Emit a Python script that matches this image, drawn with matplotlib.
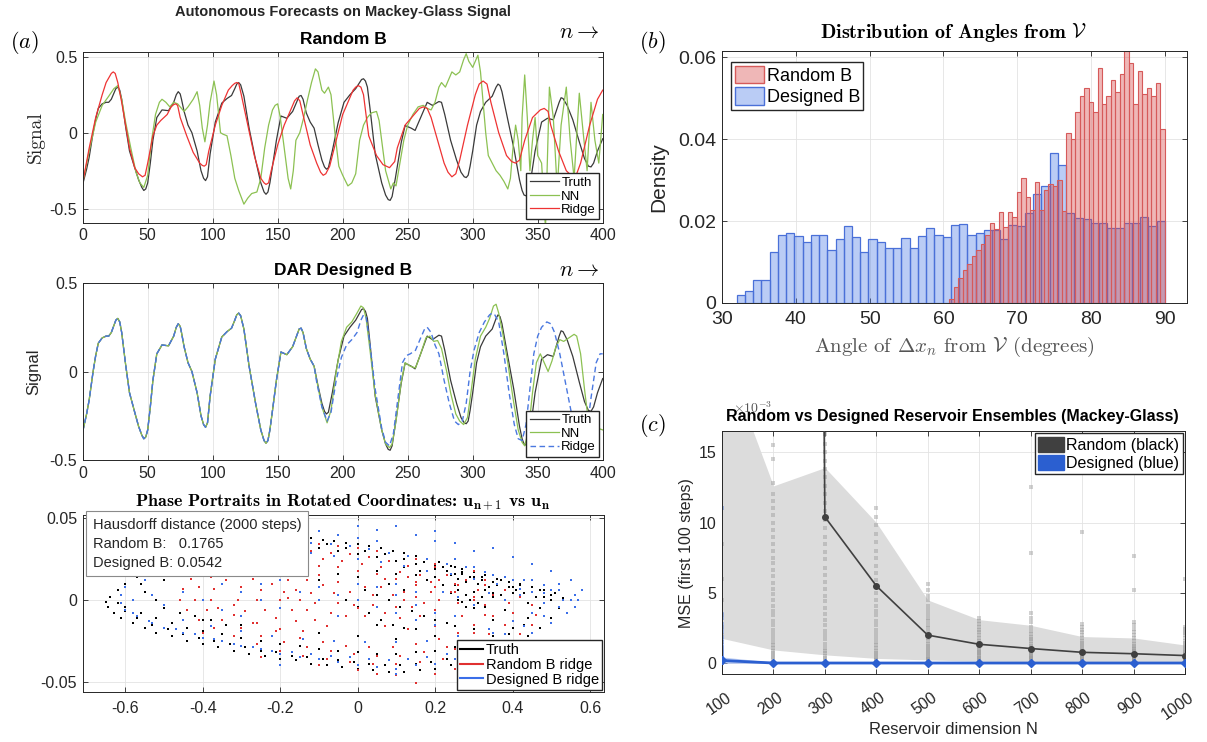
import os

import matplotlib
matplotlib.use("Agg")
import matplotlib.pyplot as plt
import matplotlib.transforms as mtransforms
from matplotlib.font_manager import FontProperties
from matplotlib.patches import Patch
from matplotlib.lines import Line2D

# ---------------- data ----------------
# (a) time series: truth and the two forecast pairs
truth_n = [0, 3, 5, 8, 10, 12, 15, 18, 20, 22, 24, 25.5, 27, 28.5, 30, 33, 36, 40, 43, 45.5, 47, 48.5, 50,
           52, 54, 57, 61, 66, 70, 72, 73.5, 75, 76, 78, 81, 84, 88, 91, 93, 94.5, 96, 98, 102, 107, 111, 114.5,
           117, 118.5, 120, 121.5, 124, 128, 133, 137, 139.5, 141, 142.5, 144, 146, 149, 152.5, 157, 161.5, 165, 166.5, 168, 169.5, 172, 175, 178,
           181, 184, 186, 187.5, 189, 192, 196.5, 201, 205.6, 210, 213, 214.5, 216, 217.5, 219, 221, 225, 230, 233, 235, 236.5, 238, 240.5,
           245, 248, 252.7, 255.7, 260, 265, 269, 274, 276, 278.5, 283, 287.6, 291, 293.5, 295, 296.5, 298, 300, 303, 306, 310, 315,
           318, 319.5, 321, 322.5, 327, 331.6, 336, 338, 339.5, 341, 342.5, 345, 348, 353, 357.5, 362, 366.5, 368, 369.5, 372.6, 377, 382, 386, 389,
           391, 393, 396, 400]
truth_v = [-0.34, -0.24, -0.16, 0.0, 0.09, 0.16, 0.19, 0.2, 0.2, 0.22, 0.26, 0.29, 0.3, 0.28, 0.22, 0.04, -0.12, -0.23, -0.31, -0.36, -0.38, -0.37, -0.33,
           -0.2, -0.05, 0.1, 0.15, 0.145, 0.2, 0.25, 0.27, 0.255, 0.22, 0.14, 0.05, 0.0, -0.12, -0.25, -0.3, -0.315, -0.29, -0.14, 0.07, 0.195, 0.225, 0.245,
           0.29, 0.32, 0.33, 0.315, 0.24, 0.03, -0.18, -0.33, -0.39, -0.405, -0.39, -0.33, -0.22, -0.05, 0.11, 0.095, 0.14, 0.21, 0.24, 0.245, 0.22, 0.13, 0.07, 0.03,
           -0.08, -0.18, -0.225, -0.24, -0.23, -0.12, 0.066, 0.2, 0.25, 0.29, 0.33, 0.35, 0.355, 0.34, 0.3, 0.16, -0.14, -0.33, -0.41, -0.44, -0.445, -0.42, -0.3,
           -0.066, 0.047, 0.03, 0.015, 0.1, 0.2, 0.18, 0.205, 0.2, 0.12, -0.05, -0.18, -0.26, -0.29, -0.295, -0.28, -0.22, -0.12, 0.05, 0.14, 0.2, 0.24,
           0.3, 0.32, 0.31, 0.27, 0.085, -0.10, -0.31, -0.38, -0.41, -0.415, -0.4, -0.29, -0.12, 0.07, 0.095, 0.085, 0.2, 0.23, 0.225, 0.18, 0.085, -0.06, -0.17, -0.22,
           -0.225, -0.2, -0.12, -0.04]

rand_nn_n = [0, 5, 10, 15, 20, 24, 27, 30, 33, 37, 41, 44, 47, 50, 53, 56, 59, 61, 64, 67,
             70, 73, 76, 78, 81, 85, 88, 90, 92, 94, 96, 98, 101, 103, 106, 108, 111, 114, 117, 120,
             124, 127, 130, 134, 137, 140, 143, 146, 148, 150, 152, 155, 158, 160, 162, 164, 167, 170, 173, 176,
             179, 181, 184, 186, 189, 191, 194, 197, 200, 204, 207, 210, 213, 216, 219, 222, 226, 228, 230, 233,
             237, 239, 241, 244, 247, 250, 254, 258, 262, 265, 268, 271, 274, 276, 279, 282, 284, 287, 290, 293,
             295, 297, 300, 302, 304, 306, 308, 310, 312, 315, 318, 321, 324, 327, 329, 331, 333, 335, 337, 338,
             340, 342, 344, 346, 348, 350, 353, 356, 359, 362, 365, 368, 372, 375, 378, 382, 385, 388, 391, 394,
             397, 400]
rand_nn_v = [-0.33, -0.12, 0.07, 0.18, 0.24, 0.29, 0.31, 0.22, 0.07, -0.1, -0.26, -0.33, -0.36, -0.28, -0.05, 0.12, 0.2, 0.22, 0.2, 0.17,
             0.2, 0.19, 0.16, 0.14, 0.17, 0.22, 0.27, 0.18, 0.03, -0.06, 0.05, 0.2, 0.34, 0.25, 0.0, -0.01, -0.02, -0.15, -0.3, -0.38,
             -0.47, -0.43, -0.4, -0.39, -0.3, -0.1, 0.05, 0.15, 0.18, 0.19, 0.1, -0.1, -0.3, -0.37, -0.25, -0.05, 0.0, 0.1, 0.22, 0.33,
             0.42, 0.4, 0.28, 0.26, 0.3, 0.25, 0.0, -0.22, -0.28, -0.35, -0.33, -0.27, -0.05, 0.05, 0.1, 0.13, 0.14, 0.08, -0.05, -0.25,
             -0.37, -0.33, -0.35, -0.2, -0.05, 0.05, 0.12, 0.17, 0.18, 0.16, 0.15, 0.2, 0.3, 0.33, 0.3, 0.36, 0.4, 0.38, 0.4, 0.48,
             0.52, 0.47, 0.43, 0.47, 0.51, 0.4, 0.2, 0.0, -0.15, -0.2, -0.25, -0.28, -0.32, -0.37, -0.3, -0.1, 0.05, -0.05, -0.25, 0.1,
             0.38, 0.1, -0.25, -0.05, 0.1, -0.15, -0.2, -0.63, 0.3, 0.1, -0.37, 0.05, 0.3, -0.05, -0.3, 0.26, 0.0, -0.25, 0.2, -0.05,
             -0.2, 0.12]

rand_ridge_n = [0, 5, 10, 15, 18, 20, 22, 23.5, 25, 27, 30, 33, 36, 40, 43, 46, 48, 50, 54, 57, 60, 65, 68, 70, 71.5, 73, 75,
                80, 85, 90, 92, 93.5, 95, 97, 102, 107, 112, 115, 117, 118.5, 120, 122, 127, 132, 137, 139.5, 141, 143, 145, 150, 155, 160, 163, 165, 167, 170,
                175, 180, 183, 185, 187, 190, 195, 200, 205, 208, 210, 212, 214, 216, 220, 226, 231, 236, 240, 242, 248, 255, 259, 262, 265, 268, 273, 278,
                281, 284, 287, 290, 296, 302, 305, 308, 311, 314, 320, 326, 330, 333, 336, 340, 346, 352, 355, 358, 360, 366, 372, 375, 377, 380, 383, 390, 396,
                400]
rand_ridge_v = [-0.33, -0.1, 0.1, 0.25, 0.33, 0.36, 0.39, 0.4, 0.39, 0.33, 0.2, 0.05, -0.1, -0.23, -0.27, -0.29, -0.28, -0.2, -0.02, 0.05, 0.08, 0.12, 0.17, 0.185, 0.19, 0.18, 0.1,
                -0.02, -0.13, -0.2, -0.215, -0.22, -0.21, -0.12, 0.05, 0.18, 0.28, 0.31, 0.325, 0.33, 0.325, 0.25, 0.05, -0.15, -0.3, -0.33, -0.34, -0.33, -0.25, -0.08, 0.05, 0.15, 0.21, 0.23, 0.21, 0.1,
                -0.08, -0.2, -0.26, -0.28, -0.27, -0.22, -0.05, 0.12, 0.22, 0.28, 0.3, 0.31, 0.3, 0.25, -0.02, -0.15, -0.21, -0.23, -0.19, -0.1, 0.05, 0.12, 0.16, 0.17, 0.16, 0.1, -0.05, -0.2,
                -0.26, -0.29, -0.27, -0.18, 0.05, 0.25, 0.32, 0.34, 0.32, 0.2, 0.0, -0.15, -0.19, -0.2, -0.18, -0.05, 0.1, 0.15, 0.16, 0.14, 0.05, -0.12, -0.25, -0.275, -0.28, -0.27, -0.2, 0.05, 0.22,
                0.28]

# designed-B forecasts track the truth until n ~ 178, then diverge
des_split = 178
des_nn_n = [180, 184, 188, 191, 195, 199, 203, 207, 211, 214, 216, 218, 221, 225, 230, 233, 236, 238, 241, 245,
            248, 252, 256, 260, 264, 267, 270, 273, 276, 280, 283, 287, 290, 293, 296, 299, 302, 306, 310, 313,
            316, 318, 320, 323, 327, 331, 335, 338, 340, 343, 346, 349, 352, 355, 358, 361, 364, 367, 370, 374,
            378, 380, 383, 386, 389, 392, 396, 400]
des_nn_v = [-0.05, -0.2, -0.29, -0.22, 0.0, 0.17, 0.25, 0.28, 0.33, 0.37, 0.36, 0.3, 0.12, -0.13, -0.33, -0.41, -0.43, -0.41, -0.28, -0.06,
            0.05, 0.03, 0.02, 0.1, 0.19, 0.2, 0.17, 0.175, 0.13, 0.0, -0.12, -0.24, -0.28, -0.3, -0.26, -0.1, 0.07, 0.2, 0.25, 0.3,
            0.37, 0.38, 0.33, 0.22, 0.05, -0.15, -0.33, -0.4, -0.42, -0.33, -0.12, 0.05, 0.1, 0.05, 0.0, 0.06, 0.14, 0.18, 0.17, 0.19,
            0.21, 0.2, 0.1, -0.1, -0.28, -0.3, -0.32, -0.33]
des_ridge_n = [180, 184, 188, 191, 195, 199, 203, 207, 211, 214, 216, 218, 221, 225, 230, 233, 236, 239, 242, 246,
               249, 252, 256, 260, 263, 265, 268, 271, 274, 278, 282, 286, 289, 292, 295, 298, 301, 305, 309, 313,
               315, 317, 320, 324, 328, 332, 335, 338, 341, 344, 347, 350, 353, 357, 360, 363, 367, 371, 375, 379,
               383, 387, 391, 395, 398, 400]
des_ridge_v = [-0.06, -0.2, -0.28, -0.23, -0.05, 0.08, 0.15, 0.18, 0.22, 0.29, 0.32, 0.31, 0.15, -0.1, -0.32, -0.4, -0.42, -0.35, -0.18, 0.05,
               0.09, 0.1, 0.12, 0.19, 0.24, 0.25, 0.22, 0.15, 0.1, -0.05, -0.18, -0.28, -0.3, -0.28, -0.18, 0.0, 0.12, 0.22, 0.28, 0.32,
               0.33, 0.32, 0.28, 0.1, -0.12, -0.3, -0.38, -0.39, -0.3, -0.1, 0.1, 0.2, 0.25, 0.28, 0.27, 0.22, 0.1, -0.05, -0.2, -0.35,
               -0.42, -0.38, -0.15, 0.05, 0.1, 0.1]

# (a) phase portrait points (u_n, u_{n+1}) in rotated coordinates
truth_pts = [
    (-0.45, 0.03), (-0.42, 0.034), (-0.39, 0.037), (-0.36, 0.039), (-0.33, 0.041), (-0.3, 0.042), (-0.27, 0.042),
    (-0.24, 0.042), (-0.21, 0.041), (-0.18, 0.04), (-0.15, 0.039), (-0.12, 0.038), (-0.09, 0.037), (-0.06, 0.036),
    (-0.03, 0.035), (0.0, 0.034), (0.03, 0.033), (0.06, 0.032), (0.09, 0.03), (0.12, 0.029), (0.15, 0.027),
    (0.18, 0.025), (0.21, 0.023), (0.24, 0.021), (0.27, 0.019), (0.3, 0.017), (0.33, 0.015), (0.36, 0.013),
    (0.39, 0.011), (0.42, 0.01), (0.45, 0.008), (0.48, 0.006), (0.51, 0.004), (0.53, 0.001),
    (-0.4, 0.028), (-0.35, 0.032), (-0.3, 0.034), (-0.25, 0.035), (-0.2, 0.034), (-0.15, 0.033), (-0.1, 0.032),
    (-0.05, 0.03), (0.0, 0.028), (0.05, 0.026), (0.1, 0.024), (0.15, 0.022), (0.2, 0.019), (0.25, 0.016),
    (0.3, 0.013), (0.35, 0.011), (0.4, 0.008), (0.45, 0.005), (0.5, 0.0),
    (-0.38, 0.034), (-0.33, 0.037), (-0.28, 0.038), (-0.23, 0.038), (-0.18, 0.037), (-0.13, 0.035), (-0.08, 0.034),
    (-0.03, 0.032), (0.02, 0.03), (0.07, 0.028), (0.12, 0.025), (0.17, 0.023), (0.22, 0.02), (0.27, 0.017),
    (0.32, 0.014), (0.37, 0.012), (0.42, 0.009), (0.47, 0.006),
    (0.12, 0.02), (0.16, 0.018), (0.2, 0.014), (0.22, 0.02), (0.24, 0.015), (0.26, 0.013), (0.28, 0.011),
    (0.3, 0.014), (0.32, 0.012), (0.34, 0.008), (0.36, 0.009), (0.38, 0.006), (0.4, 0.004), (0.26, 0.006),
    (0.28, 0.003), (0.3, 0.005), (0.32, 0.002), (0.29, 0.0), (0.31, -0.002), (0.27, -0.001), (0.33, -0.004),
    (0.25, 0.009), (0.35, 0.004), (0.42, 0.002), (0.44, -0.002), (0.2, 0.008), (0.18, 0.012), (0.15, 0.015),
    (0.1, 0.016), (0.05, 0.018), (0.2, 0.021), (0.23, 0.018), (0.25, 0.02), (0.27, 0.016), (0.29, 0.014),
    (0.31, 0.01), (0.33, 0.006), (0.35, 0.002), (0.37, 0.003), (0.39, 0.008), (0.41, 0.006), (0.43, 0.004),
    (0.46, 0.002), (0.48, 0.002), (0.5, 0.003), (0.3, -0.005), (0.28, -0.004), (0.26, 0.0), (0.24, 0.004),
    (0.22, 0.009),
    (-0.5, 0.022), (-0.54, 0.018), (-0.57, 0.014), (-0.6, 0.01), (-0.62, 0.006), (-0.64, 0.002), (-0.65, -0.001),
    (-0.645, -0.004), (-0.63, -0.008), (-0.61, -0.011), (-0.58, -0.014), (-0.55, -0.017), (-0.52, -0.02),
    (-0.48, -0.022), (-0.44, -0.025), (-0.45, 0.025), (-0.42, 0.022), (-0.38, 0.025), (-0.34, 0.027),
    (-0.3, 0.025), (-0.26, 0.028), (-0.52, 0.016), (-0.48, 0.018),
    (-0.4, -0.027), (-0.36, -0.029), (-0.32, -0.031), (-0.28, -0.033), (-0.24, -0.034), (-0.2, -0.036),
    (-0.16, -0.037), (-0.12, -0.039), (-0.08, -0.04), (-0.04, -0.041), (0.0, -0.042), (0.04, -0.043),
    (0.08, -0.044), (0.12, -0.044), (0.16, -0.043), (0.2, -0.042), (0.24, -0.04), (0.28, -0.038), (0.32, -0.035),
    (0.36, -0.031), (0.4, -0.027), (0.44, -0.022), (0.47, -0.017), (0.5, -0.011), (0.52, -0.005),
    (-0.62, -0.002), (-0.6, -0.007), (-0.57, -0.011), (-0.53, -0.015), (-0.49, -0.018), (-0.45, -0.021),
    (-0.41, -0.023), (-0.37, -0.025), (-0.33, -0.027), (-0.29, -0.029), (-0.25, -0.031), (-0.21, -0.032),
    (-0.17, -0.034), (-0.13, -0.035), (-0.09, -0.036), (-0.05, -0.037), (-0.01, -0.038), (0.03, -0.039),
    (0.07, -0.04), (0.11, -0.04), (0.15, -0.039), (0.19, -0.038), (0.23, -0.036), (0.27, -0.034), (0.31, -0.031),
    (0.35, -0.026), (0.39, -0.021), (0.43, -0.015),
    (-0.6, -0.004), (-0.56, -0.008), (-0.52, -0.011), (-0.48, -0.014), (-0.44, -0.017), (-0.4, -0.019),
    (-0.35, -0.021), (-0.3, -0.023), (-0.25, -0.025), (-0.2, -0.027), (-0.15, -0.028), (-0.1, -0.03),
    (-0.05, -0.031), (0.0, -0.032), (0.05, -0.033), (0.1, -0.033), (0.15, -0.032), (0.2, -0.031), (0.25, -0.029),
    (0.3, -0.026), (0.35, -0.022), (0.4, -0.017), (0.44, -0.011), (0.47, -0.005),
    (-0.2, -0.018), (-0.1, -0.02), (0.0, -0.022), (0.1, -0.024), (0.2, -0.022), (0.3, -0.018), (0.35, -0.012),
    (0.38, -0.006), (-0.3, -0.015), (-0.4, -0.012), (0.05, -0.015), (0.15, -0.018), (0.25, -0.016),
    (-0.55, 0.005), (-0.52, 0.0), (-0.5, -0.005), (-0.46, -0.008), (-0.42, -0.01), (-0.38, -0.012), (-0.34, -0.015),
    (-0.56, 0.01), (-0.5, 0.012), (-0.45, 0.015), (-0.4, 0.018), (-0.36, 0.02),
    (-0.06, 0.004), (-0.03, 0.0), (0.0, -0.004), (0.03, -0.008), (0.06, -0.012), (0.09, -0.015), (0.12, -0.017),
    (0.02, 0.006), (0.05, 0.003), (0.08, 0.0), (0.11, -0.004), (0.14, -0.007), (0.17, -0.01), (0.2, -0.012),
    (0.23, -0.014), (0.08, 0.01), (0.12, 0.006), (-0.1, 0.012), (-0.05, 0.016), (0.0, 0.014),
]
rand_pts = [
    (-0.46, 0.0), (-0.45, 0.007), (-0.43, 0.013), (-0.4, 0.018), (-0.36, 0.022), (-0.32, 0.025), (-0.27, 0.027),
    (-0.22, 0.029), (-0.17, 0.03), (-0.12, 0.03), (-0.07, 0.029), (-0.02, 0.028), (0.03, 0.026), (0.08, 0.024),
    (0.13, 0.021), (0.18, 0.018), (0.23, 0.015), (0.28, 0.012), (0.33, 0.009), (0.38, 0.006), (0.42, 0.002),
    (0.45, -0.003), (0.46, -0.009), (0.45, -0.015), (0.42, -0.021), (0.38, -0.026), (0.33, -0.03), (0.28, -0.033),
    (0.22, -0.036), (0.16, -0.038), (0.1, -0.039), (0.04, -0.039), (-0.02, -0.038), (-0.08, -0.036),
    (-0.14, -0.034), (-0.2, -0.031), (-0.26, -0.027), (-0.32, -0.022), (-0.37, -0.017), (-0.41, -0.012),
    (-0.44, -0.006),
    (-0.42, 0.0), (-0.41, 0.008), (-0.38, 0.014), (-0.34, 0.018), (-0.29, 0.022), (-0.24, 0.024), (-0.19, 0.025),
    (-0.14, 0.026), (-0.09, 0.025), (-0.04, 0.024), (0.01, 0.022), (0.06, 0.02), (0.11, 0.017), (0.16, 0.015),
    (0.21, 0.012), (0.26, 0.009), (0.31, 0.006), (0.35, 0.003), (0.39, -0.002), (0.4, -0.008), (0.38, -0.015),
    (0.34, -0.021), (0.29, -0.026), (0.23, -0.029), (0.17, -0.032), (0.11, -0.034), (0.05, -0.034),
    (-0.01, -0.033), (-0.07, -0.031), (-0.13, -0.029), (-0.19, -0.026), (-0.25, -0.022), (-0.3, -0.017),
    (-0.35, -0.012), (-0.39, -0.006),
    (-0.38, 0.0), (-0.37, 0.007), (-0.34, 0.012), (-0.3, 0.016), (-0.25, 0.019), (-0.2, 0.021), (-0.15, 0.022),
    (-0.1, 0.021), (-0.05, 0.02), (0.0, 0.018), (0.05, 0.016), (0.1, 0.013), (0.15, 0.011), (0.2, 0.008),
    (0.25, 0.005), (0.3, 0.002), (0.33, -0.003), (0.33, -0.009), (0.3, -0.015), (0.26, -0.02), (0.21, -0.024),
    (0.15, -0.027), (0.09, -0.029), (0.03, -0.029), (-0.03, -0.028), (-0.09, -0.026), (-0.15, -0.023),
    (-0.21, -0.019), (-0.27, -0.014), (-0.32, -0.009), (-0.36, -0.005),
    (-0.31, 0.0), (-0.3, 0.008), (-0.27, 0.013), (-0.22, 0.016), (-0.16, 0.017), (-0.1, 0.015), (-0.05, 0.011),
    (-0.02, 0.005), (-0.01, -0.003), (-0.03, -0.01), (-0.08, -0.016), (-0.14, -0.019), (-0.2, -0.018),
    (-0.26, -0.014), (-0.29, -0.007),
    (-0.26, 0.0), (-0.25, 0.006), (-0.22, 0.01), (-0.18, 0.012), (-0.13, 0.012), (-0.09, 0.009), (-0.06, 0.004),
    (-0.05, -0.002), (-0.07, -0.008), (-0.11, -0.012), (-0.16, -0.013), (-0.21, -0.011), (-0.24, -0.006),
    (-0.2, 0.0), (-0.19, 0.005), (-0.16, 0.006), (-0.12, 0.004), (-0.11, -0.002), (-0.13, -0.006),
    (-0.17, -0.006), (-0.18, 0.001), (-0.15, 0.0),
    (0.0, 0.0), (0.02, 0.008), (0.07, 0.013), (0.13, 0.014), (0.19, 0.011), (0.24, 0.005), (0.26, -0.002),
    (0.25, -0.01), (0.2, -0.016), (0.13, -0.018), (0.07, -0.016), (0.02, -0.01),
    (0.04, 0.003), (0.06, 0.008), (0.1, 0.01), (0.15, 0.009), (0.19, 0.005), (0.21, 0.0), (0.2, -0.006),
    (0.16, -0.01), (0.11, -0.011), (0.07, -0.008), (0.04, -0.003), (0.09, 0.003), (0.12, 0.005), (0.15, 0.002),
    (0.14, -0.004), (0.1, -0.004), (0.12, 0.0), (0.17, -0.002),
    (-0.15, 0.035), (-0.1, 0.034), (-0.05, 0.033), (0.0, 0.032), (0.2, 0.022), (0.3, 0.018), (0.1, -0.046),
    (0.15, -0.051), (0.05, -0.045), (0.35, 0.015), (0.4, 0.012), (0.38, -0.032), (-0.3, 0.03), (-0.25, -0.035),
    (0.25, -0.042), (0.0, -0.005), (-0.02, 0.005), (0.25, 0.01), (0.27, -0.01), (-0.3, 0.005), (-0.32, -0.003),
    (0.3, -0.02), (0.35, -0.01), (0.4, -0.03), (0.2, 0.02), (0.25, -0.03), (-0.35, 0.01), (-0.4, -0.02),
    (0.45, -0.02), (-0.2, 0.033), (0.05, 0.03), (0.15, 0.025), (-0.1, -0.04), (0.0, -0.043), (0.2, -0.045),
    (0.3, 0.0), (0.33, 0.012),
]
des_pts = [
    (-0.5, 0.025), (-0.45, 0.03), (-0.4, 0.034), (-0.35, 0.037), (-0.3, 0.039), (-0.25, 0.04), (-0.2, 0.041),
    (-0.15, 0.043), (-0.1, 0.042), (-0.05, 0.04), (0.0, 0.038), (0.05, 0.036), (0.1, 0.045), (0.15, 0.04),
    (0.2, 0.036), (0.25, 0.035), (0.3, 0.03), (0.35, 0.032), (0.4, 0.026), (0.45, 0.022), (0.5, 0.018),
    (0.55, 0.012), (0.58, 0.006), (0.57, 0.0),
    (-0.55, 0.02), (-0.47, 0.027), (-0.42, 0.032), (-0.37, 0.035), (-0.32, 0.036), (-0.27, 0.037), (-0.22, 0.036),
    (-0.17, 0.036), (-0.12, 0.035), (-0.07, 0.034), (-0.02, 0.033), (0.03, 0.031), (0.08, 0.029), (0.13, 0.027),
    (0.18, 0.025), (0.23, 0.022), (0.28, 0.02), (0.33, 0.017), (0.38, 0.014), (0.43, 0.012), (0.48, 0.009),
    (0.52, 0.006), (0.56, 0.003),
    (-0.42, 0.022), (-0.36, 0.026), (-0.3, 0.028), (-0.24, 0.03), (-0.18, 0.03), (-0.12, 0.029), (-0.06, 0.027),
    (0.0, 0.025), (0.06, 0.023), (0.12, 0.021), (0.18, 0.018), (0.24, 0.016), (0.3, 0.013), (0.36, 0.01),
    (0.42, 0.007), (0.48, 0.004), (0.53, 0.0), (0.56, -0.004),
    (-0.6, 0.008), (-0.61, 0.003), (-0.61, -0.002), (-0.6, -0.006), (-0.57, -0.01), (-0.54, -0.013),
    (-0.55, 0.012), (-0.5, 0.016), (-0.58, 0.0), (-0.53, 0.003), (-0.5, -0.003),
    (-0.5, -0.017), (-0.45, -0.02), (-0.4, -0.023), (-0.35, -0.025), (-0.3, -0.028), (-0.25, -0.03), (-0.2, -0.033),
    (-0.15, -0.035), (-0.1, -0.036), (-0.05, -0.038), (0.0, -0.04), (0.05, -0.041), (0.1, -0.042), (0.15, -0.04),
    (0.2, -0.039), (0.25, -0.036), (0.3, -0.033), (0.35, -0.03), (0.4, -0.025), (0.45, -0.02), (0.5, -0.014),
    (0.54, -0.008),
    (-0.58, -0.008), (-0.53, -0.014), (-0.47, -0.018), (-0.42, -0.021), (-0.37, -0.024), (-0.32, -0.027),
    (-0.27, -0.029), (-0.22, -0.031), (-0.17, -0.032), (-0.12, -0.033), (-0.07, -0.034), (-0.02, -0.035),
    (0.03, -0.036), (0.08, -0.037), (0.13, -0.036), (0.18, -0.035), (0.23, -0.033), (0.28, -0.03), (0.33, -0.026),
    (0.38, -0.021), (0.43, -0.016), (0.48, -0.01), (0.52, -0.004),
    (-0.45, -0.012), (-0.38, -0.016), (-0.3, -0.019), (-0.22, -0.022), (-0.14, -0.024), (-0.06, -0.025),
    (0.02, -0.026), (0.1, -0.026), (0.18, -0.025), (0.26, -0.022), (0.34, -0.018), (0.4, -0.013), (0.45, -0.008),
    (0.48, -0.002),
    (-0.35, 0.01), (-0.3, 0.005), (-0.25, 0.0), (-0.2, -0.005), (-0.1, 0.008), (-0.05, 0.003), (0.0, 0.0),
    (0.05, -0.004), (0.1, -0.008), (0.15, -0.012), (0.2, -0.015), (0.22, 0.005), (0.26, 0.002), (0.3, -0.003),
    (0.34, 0.004), (0.38, 0.0), (0.42, 0.003), (0.1, 0.01), (0.15, 0.005), (-0.15, 0.015), (0.45, 0.012),
    (0.4, -0.03), (0.42, -0.04),
    (-0.45, 0.005), (-0.4, 0.0), (-0.35, -0.006), (-0.3, -0.01), (-0.25, 0.01), (-0.2, 0.012), (-0.15, 0.005),
    (-0.1, 0.0), (-0.05, -0.01), (0.0, 0.01), (0.05, 0.008), (0.1, 0.003), (0.15, -0.003), (0.2, -0.008),
    (0.25, -0.01), (0.3, 0.02), (0.35, 0.015), (0.4, 0.012), (0.45, 0.005), (0.5, 0.006), (0.55, 0.0),
    (0.52, 0.01), (0.35, -0.02), (0.25, 0.025), (0.05, 0.043), (0.0, 0.045), (0.2, 0.042), (-0.2, -0.04),
    (0.1, -0.045), (0.3, -0.04),
]
hausdorff_random = 0.1765
hausdorff_designed = 0.0542

# (b) angle histograms (density per bin)
blue_start, blue_end = 32.0, 90.0
blue_heights = [0.002, 0.003, 0.0057, 0.0055, 0.0125, 0.0167, 0.017, 0.0163, 0.015, 0.0165,
                0.0165, 0.013, 0.0155, 0.0187, 0.016, 0.0125, 0.0155, 0.015, 0.0135, 0.0135,
                0.0158, 0.0135, 0.0163, 0.0183, 0.0167, 0.016, 0.019, 0.0192, 0.0167, 0.017,
                0.0177, 0.0177, 0.0157, 0.019, 0.0188, 0.022, 0.0265, 0.0285, 0.0365, 0.0338,
                0.022, 0.0208, 0.0205, 0.0195, 0.0195, 0.0183, 0.0183, 0.0195, 0.0195, 0.021,
                0.0187, 0.02]
red_start, red_end = 60.8, 90.0
red_heights = [0.001, 0.004, 0.006, 0.008, 0.0095, 0.0115, 0.013, 0.0145, 0.0165, 0.0195,
               0.018, 0.0222, 0.0185, 0.0222, 0.021, 0.027, 0.0305, 0.0258, 0.0228, 0.0296,
               0.0228, 0.0275, 0.029, 0.0285, 0.03, 0.0225, 0.0415, 0.040, 0.0465, 0.0505,
               0.0525, 0.049, 0.0465, 0.0573, 0.0485, 0.0505, 0.0545, 0.0515, 0.056, 0.0615,
               0.0585, 0.0485, 0.0565, 0.051, 0.0525, 0.0505, 0.0537, 0.0425]

# (c) ensemble MSE (x 1e-3) vs reservoir size
res_N = [100, 200, 300, 400, 500, 600, 700, 800, 900, 1000]
rand_mean = [800.0, 450.0, 10.4, 5.5, 2.0, 1.35, 1.05, 0.78, 0.68, 0.55]
rand_hi = [22.4, 12.6, 13.9, 10.0, 4.5, 3.1, 2.7, 1.9, 1.8, 1.3]
rand_lo = [1.77, 0.95, 0.6, 0.35, 0.24, 0.15, 0.12, 0.1, 0.08, 0.06]
des_mean = [0.2, 0.02, 0.02, 0.02, 0.02, 0.02, 0.02, 0.02, 0.02, 0.02]
des_hi = [0.45, 0.08, 0.06, 0.05, 0.05, 0.05, 0.05, 0.05, 0.05, 0.05]
des_lo = [0.0, 0.0, 0.0, 0.0, 0.0, 0.0, 0.0, 0.0, 0.0, 0.0]
rand_trials = [
    [0.2, 0.5, 0.8, 1.1, 1.5, 2.0, 2.6, 3.4, 4.5, 6.0, 8.5, 11.0],
    [0.3, 0.45, 0.6, 0.75, 0.9, 1.1, 1.3, 1.5, 1.8, 2.1, 2.4, 2.7, 3.0, 3.4, 3.7, 4.1, 4.5, 4.9, 5.3, 5.7, 6.2,
     6.6, 7.1, 7.5, 8.0, 8.5, 9.0, 9.5, 10.0, 10.5, 11.0, 11.5, 12.0, 12.8, 14.5, 15.5],
    [0.2, 0.35, 0.5, 0.7, 0.9, 1.1, 1.4, 1.7, 2.0, 2.3, 2.7, 3.1, 3.5, 3.9, 4.4, 4.8, 5.3, 5.8, 6.3, 6.8, 7.4,
     7.9, 8.5, 9.0, 9.6, 10.2, 10.8, 11.4, 12.0, 12.6, 13.2, 13.8, 14.4, 15.0, 15.6, 16.3],
    [0.1, 0.2, 0.3, 0.45, 0.6, 0.75, 0.9, 1.1, 1.3, 1.5, 1.8, 2.1, 2.4, 2.7, 3.0, 3.4, 3.7, 4.1, 4.5, 5.0, 5.4,
     5.9, 6.4, 6.9, 7.5, 8.0, 8.6, 9.2, 9.8, 10.4, 11.0],
    [0.1, 0.2, 0.3, 0.4, 0.5, 0.65, 0.8, 0.95, 1.1, 1.25, 1.4, 1.6, 1.8, 2.0, 2.2, 2.5, 2.7, 3.0, 3.2, 3.5,
     3.8, 4.1, 4.5, 4.8, 5.2, 5.6],
    [0.05, 0.12, 0.2, 0.3, 0.4, 0.5, 0.6, 0.7, 0.8, 0.9, 1.0, 1.15, 1.3, 1.45, 1.6, 1.8, 2.0, 2.2, 2.4, 2.6,
     2.8, 3.0, 3.2],
    [0.05, 0.12, 0.2, 0.28, 0.35, 0.42, 0.5, 0.6, 0.7, 0.8, 0.9, 1.0, 1.1, 1.25, 1.4, 1.55, 1.7, 1.9, 2.1,
     2.3, 2.6, 2.9, 3.2, 3.6, 7.8, 12.5],
    [0.05, 0.1, 0.15, 0.22, 0.3, 0.38, 0.45, 0.52, 0.6, 0.7, 0.8, 0.9, 1.0, 1.15, 1.3, 1.45, 1.6, 1.8, 2.0,
     2.2, 2.4, 2.6, 2.8, 9.3],
    [0.05, 0.1, 0.15, 0.2, 0.25, 0.32, 0.4, 0.48, 0.55, 0.62, 0.7, 0.8, 0.9, 1.0, 1.1, 1.25, 1.4, 1.6, 1.8,
     2.0, 2.2, 2.45, 2.7, 2.9, 5.2, 7.6],
    [0.05, 0.1, 0.15, 0.2, 0.27, 0.35, 0.42, 0.5, 0.58, 0.65, 0.72, 0.8, 0.9, 1.0, 1.15, 1.3, 1.45, 1.6, 1.8,
     2.0, 2.15, 2.3, 2.45, 2.6, 6.0],
]
des_trials_100 = [0.02, 0.05, 0.08, 0.1, 0.15, 0.2, 0.25, 0.3, 0.38, 0.45, 0.52, 0.6, 0.7, 0.8, 0.9, 1.0, 1.15,
                  1.3, 1.5, 1.7, 1.9, 2.2, 2.5, 2.8, 3.2, 3.5, 11.0]

# ---------------- styling ----------------
W, H = 1207, 742
plt.rcParams["font.family"] = ["Liberation Sans", "DejaVu Sans"]
plt.rcParams["mathtext.fontset"] = "cm"
plt.rcParams["axes.linewidth"] = 0.7
plt.rcParams["axes.edgecolor"] = "#262626"

ttf_dir = os.path.join(matplotlib.get_data_path(), "fonts", "ttf")
CMB = os.path.join(ttf_dir, "cmb10.ttf")
CMR = os.path.join(ttf_dir, "cmr10.ttf")

TXT = "#262626"
C_TRUTH = "#3a3a3a"
C_NN = "#8cc152"
C_RIDGE = "#ee3333"
C_DES = "#4a78e0"
GRID = "#e3e3e3"

fig = plt.figure(figsize=(W / 100, H / 100), dpi=100)


def box(l, t, r, b):
    return [l / W, 1 - b / H, (r - l) / W, (b - t) / H]


def ftext(x, y, s, **kw):
    fig.text(x / W, 1 - y / H, s, ha=kw.pop("ha", "center"), va=kw.pop("va", "center"), **kw)


def matlab_axes(ax, size):
    ax.tick_params(direction="in", length=3.5, width=0.6, top=True, right=True,
                   labelsize=size, colors=TXT, pad=4)
    ax.grid(True, color=GRID, lw=0.6)
    ax.set_axisbelow(True)


legend_kw = dict(frameon=True, fancybox=False, edgecolor="#262626", framealpha=1)

# ---------------- (a) top: Random B ----------------
ax1 = fig.add_axes(box(82.7, 51.7, 602.7, 222.7))
ax1.plot(truth_n, truth_v, color=C_TRUTH, lw=0.9, label="Truth")
ax1.plot(rand_nn_n, rand_nn_v, color=C_NN, lw=0.9, label="NN")
ax1.plot(rand_ridge_n, rand_ridge_v, color=C_RIDGE, lw=0.9, label="Ridge")
ax1.set_xlim(0, 400)
ax1.set_ylim(-0.592, 0.533)
ax1.set_xticks(range(0, 401, 50))
ax1.set_yticks([-0.5, 0, 0.5])
ax1.set_yticklabels(["-0.5", "0", "0.5"])
matlab_axes(ax1, 11.5)
ax1.legend(loc="lower right", fontsize=9.5, borderaxespad=0.25, handlelength=2.2, handletextpad=0.2,
           labelspacing=0.1, borderpad=0.25, **legend_kw)

# ---------------- (a) middle: DAR Designed B ----------------
ax2 = fig.add_axes(box(82.7, 283, 602.7, 460))
keep = [i for i, n in enumerate(truth_n) if n <= des_split]
head_n = [truth_n[i] for i in keep]
head_v = [truth_v[i] for i in keep]
ax2.plot(truth_n, truth_v, color=C_TRUTH, lw=0.9, label="Truth")
ax2.plot(head_n + des_nn_n, head_v + des_nn_v, color=C_NN, lw=0.9, label="NN")
ax2.plot(head_n + des_ridge_n, head_v + des_ridge_v, color=C_DES, lw=1.0, ls=(0, (4, 2.5)), label="Ridge")
ax2.set_xlim(0, 400)
ax2.set_ylim(-0.5, 0.5)
ax2.set_xticks(range(0, 401, 50))
ax2.set_yticks([-0.5, 0, 0.5])
ax2.set_yticklabels(["-0.5", "0", "0.5"])
matlab_axes(ax2, 11.5)
ax2.legend(loc="lower right", fontsize=9.5, borderaxespad=0.25, handlelength=2.2, handletextpad=0.2,
           labelspacing=0.1, borderpad=0.25, **legend_kw)

# ---------------- (a) bottom: phase portrait ----------------
ax3 = fig.add_axes(box(82.7, 515, 604, 691.7))
for pts, col in ((truth_pts, "black"), (rand_pts, "#e03030"), (des_pts, "#3a6ee8")):
    ax3.scatter([p[0] for p in pts], [p[1] for p in pts], s=3, marker="s", color=col, linewidths=0)
ax3.set_xlim(-0.71, 0.636)
ax3.set_ylim(-0.0561, 0.052)
ax3.set_xticks([-0.6, -0.4, -0.2, 0, 0.2, 0.4, 0.6])
ax3.set_xticklabels(["-0.6", "-0.4", "-0.2", "0", "0.2", "0.4", "0.6"])
ax3.set_yticks([-0.05, 0, 0.05])
ax3.set_yticklabels(["-0.05", "0", "0.05"])
matlab_axes(ax3, 11.5)
ax3.tick_params(axis="x", pad=7)
h3 = [Line2D([], [], color="black", lw=1.5), Line2D([], [], color="#e03030", lw=1.5),
      Line2D([], [], color="#3a6ee8", lw=1.5)]
ax3.legend(h3, ["Truth", "Random B ridge", "Designed B ridge"], loc="lower right", fontsize=10.5,
           borderaxespad=0.15, handlelength=1.6, handletextpad=0.2, labelspacing=0.05, borderpad=0.2,
           **legend_kw)
ax3.text(0.019, 0.985,
         f"Hausdorff distance (2000 steps)\nRandom B:   {hausdorff_random:.4f}\nDesigned B: {hausdorff_designed:.4f}",
         transform=ax3.transAxes, ha="left", va="top", fontsize=10.5, color=TXT, linespacing=1.45,
         bbox=dict(boxstyle="square,pad=0.45", facecolor="white", edgecolor="#8a8a8a", lw=0.8))

# panel (a) text
ftext(343, 12, "Autonomous Forecasts on Mackey-Glass Signal", fontsize=10.5, fontweight="bold", color=TXT)
ftext(24, 43, r"$(a)$", fontsize=16)
ftext(343, 39, "Random B", fontsize=12.5, fontweight="bold", color="black")
ftext(579, 32, r"$n \rightarrow$", fontsize=16)
ftext(343, 270, "DAR Designed B", fontsize=12.5, fontweight="bold", color="black")
ftext(579, 271, r"$n \rightarrow$", fontsize=16)
ftext(36, 137, "Signal", fontproperties=FontProperties(fname=CMR, size=14), rotation=90, color=TXT)
ftext(34, 372, "Signal", fontsize=12, rotation=90, color=TXT)
ftext(343, 502, r"Phase Portraits in Rotated Coordinates: $\mathbf{u_{n+1}}$ vs $\mathbf{u_n}$",
      fontproperties=FontProperties(fname=CMB, size=13), color="black")

# ---------------- (b) histogram ----------------
axb = fig.add_axes(box(722, 51, 1187, 303))
bw = (blue_end - blue_start) / len(blue_heights)
blue_left = [blue_start + i * bw for i in range(len(blue_heights))]
rw = (red_end - red_start) / len(red_heights)
red_left = [red_start + i * rw for i in range(len(red_heights))]
RED_FACE = (0.85, 0.3, 0.3, 0.4)
BLUE_FACE = (0.25, 0.45, 0.9, 0.36)
axb.bar(blue_left, blue_heights, width=bw, align="edge", facecolor=BLUE_FACE, edgecolor="#4a70d8", lw=0.9)
axb.bar(red_left, red_heights, width=rw, align="edge", facecolor=RED_FACE, edgecolor="#d65a5a", lw=0.8)
axb.set_xlim(30, 93)
axb.set_ylim(0, 0.0615)
axb.set_xticks(range(30, 91, 10))
axb.set_yticks([0, 0.02, 0.04, 0.06])
axb.set_yticklabels(["0", "0.02", "0.04", "0.06"])
matlab_axes(axb, 14)
axb.tick_params(axis="x", pad=6)
hb = [Patch(facecolor=RED_FACE, edgecolor="#d65a5a"), Patch(facecolor=BLUE_FACE, edgecolor="#4a70d8")]
axb.legend(hb, ["Random B", "Designed B"], loc="upper left", bbox_to_anchor=(0.02, 0.955), fontsize=13,
           borderaxespad=0, handlelength=1.6, handleheight=1.1, handletextpad=0.15, labelspacing=0.15,
           borderpad=0.2, **legend_kw)
ftext(652, 43, r"$(b)$", fontsize=16)
ftext(954, 33, r"Distribution of Angles from $\mathcal{V}$", fontproperties=FontProperties(fname=CMB, size=14.5))
ftext(954, 347, r"Angle of $\Delta x_n$ from $\mathcal{V}$ (degrees)",
      fontproperties=FontProperties(fname=CMR, size=15), color="#555555")
ftext(659, 177, "Density", fontsize=15, rotation=90, color=TXT)

# ---------------- (c) ensembles ----------------
axc = fig.add_axes(box(722, 431, 1185, 674))
axc.fill_between(res_N, rand_lo, rand_hi, color="#dcdcdc", lw=0, zorder=1)
for n, vals in zip(res_N, rand_trials):
    axc.scatter([n] * len(vals), vals, s=5, marker="s", color="#9a9a9a", alpha=0.45, linewidths=0, zorder=2)
axc.scatter([res_N[0]] * len(des_trials_100), des_trials_100, s=5, marker="s", color="#7fa0e8", alpha=0.6,
            linewidths=0, zorder=2)
axc.fill_between(res_N, des_lo, des_hi, color="#9fb7ef", lw=0, alpha=0.7, zorder=3)
axc.plot(res_N, rand_mean, color="#404040", lw=1.2, marker="o", ms=4, zorder=4)
axc.plot(res_N, des_mean, color="#2b5fd0", lw=2.0, marker="D", ms=4, zorder=5)
axc.set_xlim(100, 1000)
axc.set_ylim(-0.76, 16.5)
axc.set_xticks(res_N)
axc.set_xticklabels([])
axc.set_yticks([0, 5, 10, 15])
matlab_axes(axc, 11.5)
# rotated N labels, anchored by their upper-right corner just below each tick
lab_off = mtransforms.ScaledTranslation(12 / 100, -16 / 100, fig.dpi_scale_trans)
for n in res_N:
    axc.text(n, 0, str(n), transform=axc.get_xaxis_transform() + lab_off, rotation=35,
             ha="right", va="top", fontsize=11.5, color=TXT)
hc = [Patch(facecolor="#404040", edgecolor="#404040"), Patch(facecolor="#2b5fd0", edgecolor="#2b5fd0")]
axc.legend(hc, ["Random (black)", "Designed (blue)"], loc="upper right", fontsize=11.5, borderaxespad=0.15,
           handlelength=1.6, handleheight=1.1, handletextpad=0.15, labelspacing=0.15, borderpad=0.2,
           **legend_kw)
ftext(652, 425, r"$(c)$", fontsize=16)
ftext(733, 408, r"$\times 10^{-3}$", fontsize=10, ha="left", color="#555555")
ftext(952, 417, "Random vs Designed Reservoir Ensembles (Mackey-Glass)", fontsize=11.5,
      fontweight="bold", color="black")
ftext(687, 553, "MSE (first 100 steps)", fontsize=11.5, rotation=90, color=TXT)
ftext(953, 730, "Reservoir dimension N", fontsize=12, color=TXT)

fig.savefig("out.png", dpi=100)
